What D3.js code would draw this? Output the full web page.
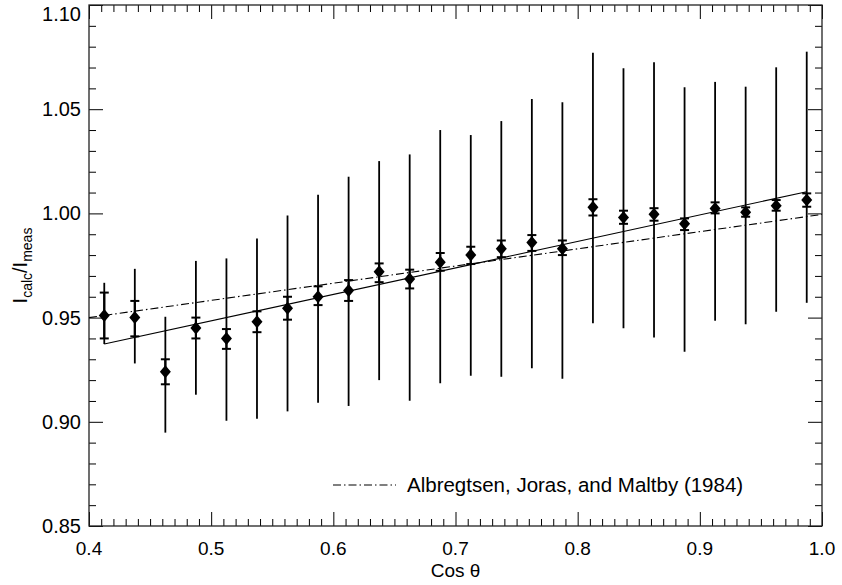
<!DOCTYPE html>
<html><head><meta charset="utf-8">
<script src="https://cdn.jsdelivr.net/npm/d3@7"></script>
<style>body{margin:0;background:#fff}svg{display:block}text{font-family:"Liberation Sans",Arial,sans-serif;fill:#000}</style>
</head><body>
<script>
// Data
const cosTheta = [0.4125,0.4375,0.4625,0.4875,0.5125,0.5375,0.5625,0.5875,0.6125,0.6375,0.6625,0.6875,0.7125,0.7375,0.7625,0.7875,0.8125,0.8375,0.8625,0.8875,0.9125,0.9375,0.9625,0.9875];
const ratio    = [0.951,0.950,0.924,0.945,0.940,0.948,0.9545,0.960,0.963,0.972,0.9685,0.9765,0.980,0.983,0.986,0.983,1.003,0.998,0.9996,0.995,1.0024,1.0005,1.0037,1.0064];
const statLo   = [0.940,0.941,0.918,0.940,0.935,0.943,0.949,0.956,0.958,0.967,0.964,0.9725,0.9757,0.979,0.982,0.980,0.999,0.995,0.9965,0.992,1.000,0.9984,1.0013,1.0032];
const statHi   = [0.962,0.958,0.930,0.950,0.9445,0.953,0.960,0.965,0.968,0.976,0.973,0.981,0.984,0.987,0.9896,0.987,1.0068,1.0013,1.0025,0.9976,1.0053,1.0029,1.0064,1.0096];
const sysLo    = [0.9373,0.928,0.8948,0.913,0.9005,0.9015,0.905,0.9092,0.9076,0.920,0.9101,0.9185,0.9221,0.9216,0.9257,0.9206,0.9473,0.9449,0.9404,0.9336,0.9485,0.9468,0.9528,0.9571];
const sysHi    = [0.9667,0.9734,0.9504,0.9772,0.9784,0.988,0.999,1.009,1.0176,1.0251,1.0283,1.040,1.0376,1.0443,1.0549,1.0533,1.0771,1.0696,1.0725,1.0605,1.0631,1.0608,1.0701,1.0776];
const fitX = [0.4125, 0.9875];
const fitY = [0.9373, 1.0104];
const ajmX = [0.4, 1.0];
const ajmY = [0.950, 0.9995];
const xTicks = [0.4,0.5,0.6,0.7,0.8,0.9,1.0];
const yTicks = [0.85,0.90,0.95,1.00,1.05,1.10];
const legendLabel = "Albregtsen, Joras, and Maltby (1984)";

const W=842,H=585, L=89,R=822,T=5,B=526;
const FS=20;
const svg=d3.select("body").append("svg").attr("width",W).attr("height",H);
const x=d3.scaleLinear().domain([0.4,1.0]).range([L,R]);
const y=d3.scaleLinear().domain([0.85,1.10]).range([B,T]);

const xMinor=d3.range(0,61).map(i=>0.4+i*0.01);
const yMinor=d3.range(0,26).map(i=>0.85+i*0.01);
const g=svg.append("g");
function tickAxes(){
  const xMaj = d=>Math.abs(Math.round(d*10)-d*10)<1e-6;
  const yMaj = d=>Math.abs(Math.round(d*20)-d*20)<1e-6;
  g.append("g").attr("transform",`translate(0,${B})`).call(d3.axisBottom(x).tickValues(xMinor).tickSizeInner(0).tickSizeOuter(0).tickFormat(""))
    .call(a=>{a.select(".domain").remove();a.selectAll(".tick line").attr("y2",d=>xMaj(d)?-14:-7).attr("stroke","#000");});
  g.append("g").attr("transform",`translate(0,${T})`).call(d3.axisTop(x).tickValues(xMinor).tickSizeInner(0).tickSizeOuter(0).tickFormat(""))
    .call(a=>{a.select(".domain").remove();a.selectAll(".tick line").attr("y2",d=>xMaj(d)?14:7).attr("stroke","#000");});
  g.append("g").attr("transform",`translate(${L},0)`).call(d3.axisLeft(y).tickValues(yMinor).tickSizeInner(0).tickSizeOuter(0).tickFormat(""))
    .call(a=>{a.select(".domain").remove();a.selectAll(".tick line").attr("x2",d=>yMaj(d)?14:7).attr("stroke","#000");});
  g.append("g").attr("transform",`translate(${R},0)`).call(d3.axisRight(y).tickValues(yMinor).tickSizeInner(0).tickSizeOuter(0).tickFormat(""))
    .call(a=>{a.select(".domain").remove();a.selectAll(".tick line").attr("x2",d=>yMaj(d)?-14:-7).attr("stroke","#000");});
  g.selectAll(".xl").data(xTicks).enter().append("text").attr("x",d=>x(d)).attr("y",B+29).attr("text-anchor","middle").attr("font-size",19).text(d=>d.toFixed(1));
  g.selectAll(".yl").data(yTicks).enter().append("text").attr("x",L-8).attr("y",d=>Math.max(y(d)+7,21)).attr("text-anchor","end").attr("font-size",FS).text(d=>d.toFixed(2));
  g.append("rect").attr("x",L).attr("y",T).attr("width",R-L).attr("height",B-T).attr("fill","none").attr("stroke","#222").attr("stroke-width",1.3);
}
tickAxes();

svg.append("text").attr("x",(L+R)/2).attr("y",B+51).attr("text-anchor","middle").attr("font-size",19).text("Cos θ");
const yt=svg.append("text").attr("transform",`translate(27,${(T+B)/2}) rotate(-90)`).attr("text-anchor","middle").attr("font-size",FS);
yt.append("tspan").text("I");
yt.append("tspan").attr("font-size",14).attr("dy",5).text("calc");
yt.append("tspan").attr("dy",-5).text("/I");
yt.append("tspan").attr("font-size",14).attr("dy",5).text("meas");

const line=d3.line().x(d=>x(d[0])).y(d=>y(d[1]));
svg.append("path").attr("d",line(fitX.map((v,i)=>[v,fitY[i]]))).attr("fill","none").attr("stroke","#000").attr("stroke-width",1.1);
svg.append("path").attr("d",line(ajmX.map((v,i)=>[v,ajmY[i]]))).attr("fill","none").attr("stroke","#000").attr("stroke-width",1.1).attr("stroke-dasharray","8,3,1.5,3");

const pts=cosTheta.map((c,i)=>({c,v:ratio[i],sl:statLo[i],sh:statHi[i],yl:sysLo[i],yh:sysHi[i]}));
const pg=svg.append("g");
pg.selectAll(".sys").data(pts).enter().append("line").attr("x1",d=>x(d.c)).attr("x2",d=>x(d.c)).attr("y1",d=>y(d.yl)).attr("y2",d=>y(d.yh)).attr("stroke","#000").attr("stroke-width",1.8);
pg.selectAll(".st").data(pts).enter().append("line").attr("x1",d=>x(d.c)).attr("x2",d=>x(d.c)).attr("y1",d=>y(d.sl)).attr("y2",d=>y(d.sh)).attr("stroke","#000").attr("stroke-width",2.2);
["sl","sh"].forEach(k=>{
  pg.selectAll(".cap"+k).data(pts).enter().append("line").attr("x1",d=>x(d.c)-4.5).attr("x2",d=>x(d.c)+4.5).attr("y1",d=>y(d[k])).attr("y2",d=>y(d[k])).attr("stroke","#000").attr("stroke-width",2);
});
pg.selectAll(".m").data(pts).enter().append("path")
  .attr("d",d=>{const cx=x(d.c),cy=y(d.v);return `M${cx},${cy-6.5}L${cx+5.5},${cy}L${cx},${cy+6.5}L${cx-5.5},${cy}Z`;}).attr("fill","#000");

svg.append("line").attr("x1",333).attr("x2",396).attr("y1",485).attr("y2",485).attr("stroke","#000").attr("stroke-width",1.1).attr("stroke-dasharray","8,3,1.5,3");
svg.append("text").attr("x",407).attr("y",492).attr("font-size",20.5).text(legendLabel);
</script>
</body></html>
